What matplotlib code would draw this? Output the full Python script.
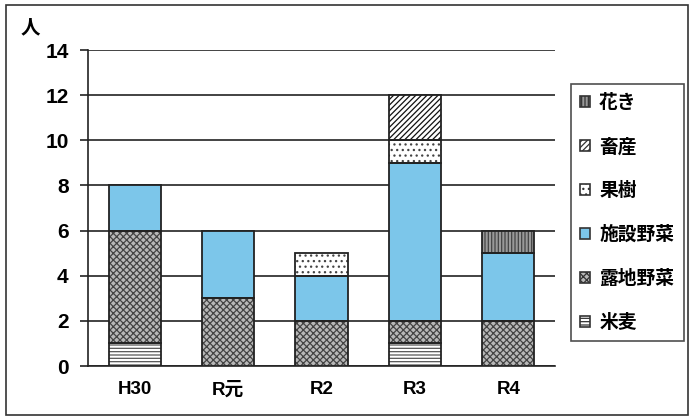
import matplotlib
matplotlib.use("Agg")
import matplotlib.pyplot as plt
from matplotlib.patches import Rectangle
import numpy as np

plt.rcParams['font.family'] = ['Noto Sans CJK JP', 'DejaVu Sans']
plt.rcParams['hatch.linewidth'] = 0.9

categories = ['H30', 'R元', 'R2', 'R3', 'R4']
series_names = ['米麦', '露地野菜', '施設野菜', '果樹', '畜産', '花き']
beibaku = [1, 0, 0, 1, 0]
roji = [5, 3, 2, 1, 2]
shisetsu = [2, 3, 2, 7, 3]
kaju = [0, 0, 1, 1, 0]
chikusan = [0, 0, 0, 2, 0]
hanaki = [0, 0, 0, 0, 1]
yticks = [0, 2, 4, 6, 8, 10, 12, 14]

values = [beibaku, roji, shisetsu, kaju, chikusan, hanaki]
styles = [
    dict(facecolor='white', hatch='-----', edgecolor='#555555'),
    dict(facecolor='#b8b8b8', hatch='xxxxx', edgecolor='#444444'),
    dict(facecolor='#7cc6ea', hatch=None, edgecolor='#222222'),
    dict(facecolor='white', hatch='...', edgecolor='#444444'),
    dict(facecolor='white', hatch='//////', edgecolor='#111111'),
    dict(facecolor='#999999', hatch='|||||', edgecolor='#444444'),
]

num_font = ['Liberation Sans', 'Noto Sans CJK JP']

fig = plt.figure(figsize=(6.9, 4.17), dpi=100)
ax = fig.add_axes([88/690, 1-366/417, (555-88)/690, (366-50)/417])

x = np.arange(len(categories))
bottom = np.zeros(len(categories))
handles = []
for name, vals, st in zip(series_names, values, styles):
    vals = np.array(vals, dtype=float)
    bars = ax.bar(x, vals, width=0.56, bottom=bottom, facecolor=st['facecolor'],
                  hatch=st['hatch'], edgecolor=st['edgecolor'], linewidth=0, zorder=3, label=name)
    for xi, v, b in zip(x, vals, bottom):
        if v > 0:
            ax.add_patch(Rectangle((xi-0.28, b), 0.56, v, fill=False, edgecolor='#222222',
                                   linewidth=1.3, zorder=4))
    handles.append(bars)
    bottom += vals

ax.set_xlim(-0.5, len(categories)-0.5)
ax.set_ylim(0, 14)
ax.set_yticks(yticks)
ax.set_yticklabels([str(t) for t in yticks], fontsize=15, fontweight='bold', family=num_font)
ax.set_xticks(x)
ax.set_xticklabels(categories, fontsize=13.5, fontweight='bold', family=num_font)
ax.tick_params(axis='x', length=0, pad=11)
ax.tick_params(axis='y', length=6, width=1.2, direction='out', pad=8, color='#222222')
ax.grid(axis='y', color='#222222', linewidth=1.2, zorder=0)
for s in ['top', 'right']:
    ax.spines[s].set_visible(False)
for s in ['left', 'bottom']:
    ax.spines[s].set_linewidth(1.2)
    ax.spines[s].set_color('#222222')

fig.text(30/690, 1-28/417, '人', fontsize=14, fontweight='bold', ha='center', va='center')

leg = fig.legend(handles[::-1], series_names[::-1], loc='upper left',
                 bbox_to_anchor=(571/690, 1-84/417), prop=dict(size=13.5, weight='bold'),
                 frameon=True, fancybox=False, edgecolor='#222222', labelspacing=1.33,
                 handlelength=0.5, handleheight=0.5, handletextpad=0.5, borderpad=0.5,
                 borderaxespad=0)
leg.get_frame().set_linewidth(1.2)
for h in leg.legend_handles:
    h.set_linewidth(1.2)
    h.set_edgecolor('#333333')

fig.add_artist(Rectangle((6/690, 2/417), 682/690, 410/417, transform=fig.transFigure,
                         fill=False, edgecolor='#333333', linewidth=1.2))

fig.savefig('out.png', dpi=100)
